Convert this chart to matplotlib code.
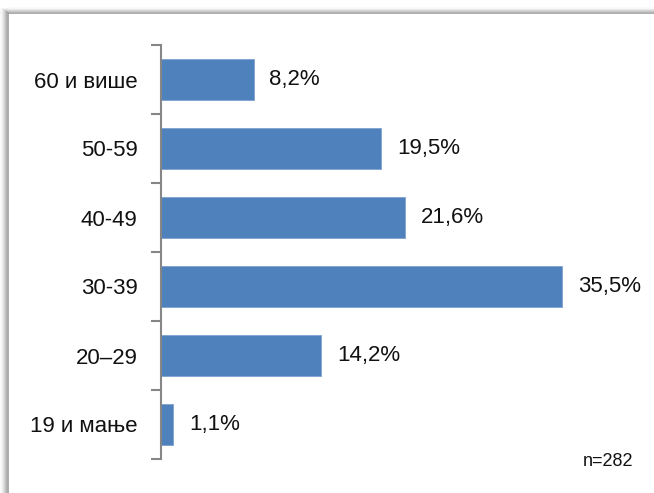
import matplotlib.pyplot as plt
from matplotlib.lines import Line2D

plt.rcParams['font.family'] = ['Liberation Sans', 'DejaVu Sans']

# age groups, top to bottom as shown
groups = ['60 и више', '50-59', '40-49', '30-39', '20–29', '19 и мање']
shares = [8.2, 19.5, 21.6, 35.5, 14.2, 1.1]
labels = ['8,2%', '19,5%', '21,6%', '35,5%', '14,2%', '1,1%']

W, H = 654, 493
fig = plt.figure(figsize=(W / 100, H / 100), dpi=100)

# soft shadow along the top and left edge of the panel
for i in range(9):
    g = 0.62 + i * 0.045
    fig.add_artist(Line2D([(i + 0.5) / W, 1], [1 - (13 - i * 0.6) / H] * 2,
                          transform=fig.transFigure, color=str(min(g, 1)), lw=1.2))
for i in range(9):
    g = 0.62 + i * 0.045
    fig.add_artist(Line2D([(8 - i * 0.9) / W] * 2, [0, 1 - (13 - i * 0.6) / H],
                          transform=fig.transFigure, color=str(min(g, 1)), lw=1.2))

ax = fig.add_axes([161 / W, 34 / H, 452 / W, 414 / H])
y = list(range(len(groups)))
ax.barh(y, shares, height=0.58, color='#4F81BD', edgecolor='#7FA2CE', linewidth=0.6)
for yi, v, lab in zip(y, shares, labels):
    ax.text(v + 1.4, yi, lab, va='center', ha='left', fontsize=16, color='#111111')

ax.set_xlim(0, 40)
ax.set_ylim(len(groups) - 0.5, -0.5)
ax.set_xticks([])
ax.set_yticks([i - 0.5 for i in range(len(groups) + 1)])
ax.set_yticklabels([])
ax.set_yticks(y, minor=True)
ax.set_yticklabels(groups, minor=True, fontsize=16, color='#111111')
ax.tick_params(axis='y', which='minor', length=0, pad=17)
ax.tick_params(axis='y', which='major', length=7, width=1.5, color='#868686')
for s in ['top', 'right', 'bottom']:
    ax.spines[s].set_visible(False)
ax.spines['left'].set_color('#868686')
ax.spines['left'].set_linewidth(1.5)

fig.text(583 / W, 1 - 462 / H, 'n=282', fontsize=13, va='center', ha='left', color='#111111')

fig.savefig('out.png', dpi=100)
